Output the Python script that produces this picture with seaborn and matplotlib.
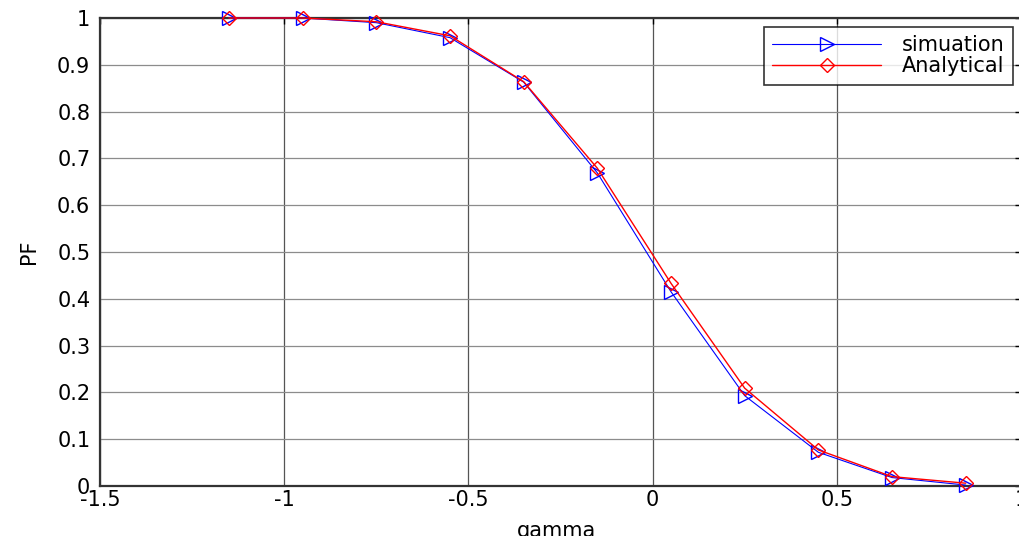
import matplotlib
matplotlib.use("Agg")
import matplotlib.pyplot as plt
import seaborn as sns
import pandas as pd

gamma = [-1.15, -0.95, -0.75, -0.55, -0.35, -0.15, 0.05, 0.25, 0.45, 0.65, 0.85]
simulation = [1.0, 1.0, 0.990, 0.958, 0.863, 0.669, 0.415, 0.193, 0.072, 0.018, 0.002]
analytical = [1.0, 1.0, 0.992, 0.962, 0.864, 0.679, 0.433, 0.209, 0.077, 0.020, 0.006]
x_ticks = [-1.5, -1, -0.5, 0, 0.5, 1]
x_tick_labels = ["-1.5", "-1", "-0.5", "0", "0.5", "1"]
y_ticks = [0, 0.1, 0.2, 0.3, 0.4, 0.5, 0.6, 0.7, 0.8, 0.9, 1.0]
y_tick_labels = ["0", "0.1", "0.2", "0.3", "0.4", "0.5", "0.6", "0.7", "0.8", "0.9", "1"]

sns.set_style("white")
plt.rcParams['font.family'] = ['DejaVu Sans']
plt.rcParams['text.color'] = 'black'
plt.rcParams['axes.labelcolor'] = 'black'
plt.rcParams['xtick.color'] = 'black'
plt.rcParams['ytick.color'] = 'black'

fig = plt.figure(figsize=(10.2, 5.36), dpi=100)
ax = fig.add_axes([100 / 1020, 50 / 536, 921 / 1020, 468 / 536])

df_sim = pd.DataFrame({"gamma": gamma, "PF": simulation})
df_ana = pd.DataFrame({"gamma": gamma, "PF": analytical})

sns.lineplot(data=df_sim, x="gamma", y="PF", ax=ax, color="#0000ff", lw=0.8,
             marker=">", markersize=9.5, markerfacecolor="none",
             markeredgecolor="#0000ff", markeredgewidth=1.0, label="simuation",
             clip_on=False, zorder=5)
sns.lineplot(data=df_ana, x="gamma", y="PF", ax=ax, color="#ff0000", lw=1.0,
             marker="D", markersize=7.5, markerfacecolor="none",
             markeredgecolor="#ff0000", markeredgewidth=1.0, label="Analytical",
             clip_on=False, zorder=6)

ax.set_xlim(-1.5, 1.0)
ax.set_ylim(0, 1.0)
ax.set_xticks(x_ticks)
ax.set_xticklabels(x_tick_labels)
ax.set_yticks(y_ticks)
ax.set_yticklabels(y_tick_labels)

ax.xaxis.grid(True, color="#555555", lw=0.9)
ax.yaxis.grid(True, color="#8c8c8c", lw=0.9)
ax.set_axisbelow(True)

ax.tick_params(axis="both", direction="in", length=4, width=1, colors="black",
               labelsize=15, top=True, right=True)
ax.tick_params(axis="y", pad=7)
ax.tick_params(axis="x", pad=3)

for s in ax.spines.values():
    s.set_color("#333333")
    s.set_linewidth(1.6)
    s.set_visible(True)

ax.set_xlabel("gamma", fontsize=15)
ax.set_ylabel("PF", fontsize=15)
ax.xaxis.set_label_coords(0.496, -0.075)
ax.yaxis.set_label_coords(-0.066, 0.5)

leg = ax.legend(loc="upper right", bbox_to_anchor=(0.991, 0.981), fontsize=15,
                frameon=True, fancybox=False, handlelength=5.2,
                borderpad=0.4, labelspacing=0.05, handletextpad=1.0,
                borderaxespad=0.0)
leg.get_frame().set_edgecolor("black")
leg.get_frame().set_linewidth(1.2)
for t in leg.get_texts():
    t.set_color("black")

fig.savefig("out.png", dpi=100)
